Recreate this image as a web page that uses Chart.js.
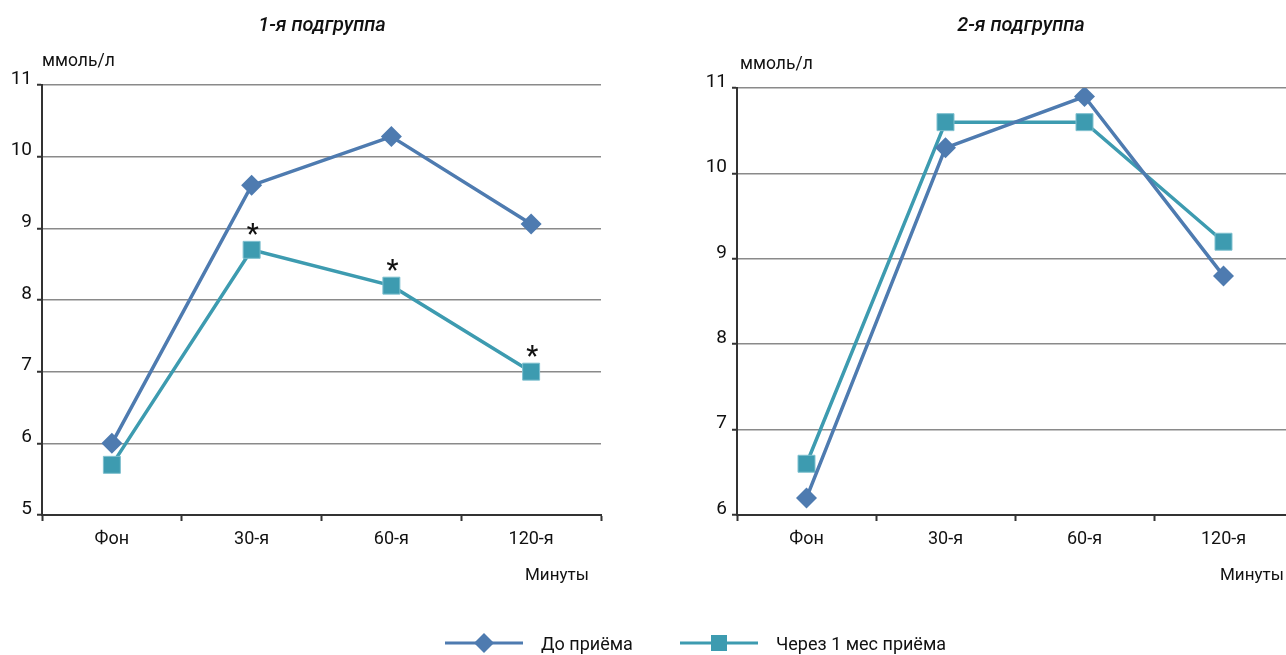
<!DOCTYPE html>
<html>
<head>
<meta charset="utf-8">
<script src="https://cdn.jsdelivr.net/npm/chart.js@4/dist/chart.umd.min.js"></script>
<style>
  html { overflow: hidden; }
  html, body { margin: 0; padding: 0; background: #fff; height: 655px;
    font-family: Roboto, "DejaVu Sans", sans-serif; color: #111; }
  body { width: 1400px; position: relative; overflow: hidden; }
  canvas { position: absolute; top: 0; max-width: none; }
  .txt { position: absolute; white-space: nowrap; line-height: 1; }
  .title { font-style: italic; font-size: 20px; font-weight: 500; transform: translateX(-50%); }
  .unit { font-size: 17.5px; }
  .axisname { font-size: 17px; }
  .legend { position: absolute; top: 631px; display: flex; align-items: center; font-size: 18px; }
  .legend svg { display: block; margin-right: 16px; }
</style>
</head>
<body>
<canvas id="g1" width="643" height="655" style="left:0; width:643px; height:655px"></canvas>
<canvas id="g2" width="650" height="655" style="left:643px; width:650px; height:655px"></canvas>

<div class="txt title" style="left:322px; top:14px">1-я подгруппа</div>
<div class="txt title" style="left:1021px; top:14px">2-я подгруппа</div>
<div class="txt unit" style="left:42px; top:52px">ммоль/л</div>
<div class="txt unit" style="left:740px; top:55px">ммоль/л</div>
<div class="txt axisname" style="left:525px; top:566px">Минуты</div>
<div class="txt axisname" style="left:1220px; top:566px">Минуты</div>

<div class="legend" style="left:445px">
  <svg width="80" height="24"><line x1="0" y1="12" x2="78" y2="12" stroke="#4e7bb0" stroke-width="3"/>
    <polygon points="39,2 49,12 39,22 29,12" fill="#4e7bb0"/></svg>
  <span>До приёма</span>
</div>
<div class="legend" style="left:680px">
  <svg width="80" height="24"><line x1="0" y1="12" x2="78" y2="12" stroke="#3d9bb0" stroke-width="3"/>
    <rect x="31" y="4" width="16" height="16" fill="#3d9bb0"/></svg>
  <span>Через 1 мес приёма</span>
</div>

<script>
// Measurement points (minutes after load)
const categories = ['Фон', '30-я', '60-я', '120-я'];

// Glucose, mmol/L — subgroup 1
const group1Before = [6.0, 9.6, 10.28, 9.06];
const group1After  = [5.7, 8.7, 8.2, 7.0];
const group1Stars  = [false, true, true, true];   // significant change vs. baseline

// Glucose, mmol/L — subgroup 2
const group2Before = [6.2, 10.3, 10.9, 8.8];
const group2After  = [6.6, 10.6, 10.6, 9.2];

// Y axis ranges
const group1Range = [5, 11];
const group2Range = [6, 11];

const BEFORE_COLOR = '#4e7bb0';
const AFTER_COLOR  = '#3d9bb0';
const FONT = 'Roboto, "DejaVu Sans", sans-serif';

// Draws an asterisk above flagged points of the second series
const starPlugin = {
  id: 'stars',
  afterDatasetsDraw(chart, args, opts) {
    if (!opts.marks) return;
    const meta = chart.getDatasetMeta(1);
    const ctx = chart.ctx;
    ctx.save();
    ctx.fillStyle = '#111';
    ctx.font = '500 27px ' + FONT;
    ctx.textAlign = 'center';
    ctx.textBaseline = 'alphabetic';
    meta.data.forEach((pt, i) => {
      if (opts.marks[i]) ctx.fillText('*', pt.x + 1, pt.y - 7);
    });
    ctx.restore();
  }
};

function build(id, before, after, range, padding, marks) {
  return new Chart(document.getElementById(id), {
    type: 'line',
    data: {
      labels: categories,
      datasets: [
        {
          label: 'До приёма',
          data: before,
          borderColor: BEFORE_COLOR,
          backgroundColor: BEFORE_COLOR,
          borderWidth: 3.5,
          pointStyle: 'rectRot',
          pointRadius: 10.5,
          pointBorderWidth: 0,
          tension: 0
        },
        {
          label: 'Через 1 мес приёма',
          data: after,
          borderColor: AFTER_COLOR,
          backgroundColor: AFTER_COLOR,
          borderWidth: 3.5,
          pointStyle: 'rect',
          pointRadius: 12,
          pointBorderColor: '#7fc0cf',
          pointBorderWidth: 1,
          tension: 0
        }
      ]
    },
    options: {
      responsive: false,
      animation: false,
      devicePixelRatio: 1,
      layout: { padding, autoPadding: false },
      plugins: {
        legend: { display: false },
        tooltip: { enabled: false },
        stars: { marks }
      },
      scales: {
        x: {
          offset: true,
          afterFit: s => { s.height = 40; },
          grid: { offset: true, drawOnChartArea: false, drawTicks: true, tickLength: 6,
                  tickColor: '#333', tickWidth: 2 },
          border: { color: '#333', width: 2 },
          ticks: { color: '#111', font: { family: FONT, size: 18 }, padding: 8, maxRotation: 0 }
        },
        y: {
          min: range[0],
          max: range[1],
          afterFit: s => { s.width = 42; },
          grid: { color: '#8a8a8a', lineWidth: 1.5, tickLength: 5, tickColor: '#333', tickWidth: 2 },
          border: { color: '#333', width: 2 },
          ticks: { stepSize: 1, color: '#111', font: { family: FONT, size: 19 }, padding: 5, labelOffset: -6 }
        }
      }
    },
    plugins: [starPlugin]
  });
}

build('g1', group1Before, group1After, group1Range, { left: 0, right: 42, top: 85, bottom: 100 }, group1Stars);
build('g2', group2Before, group2After, group2Range, { left: 52, right: 0, top: 88, bottom: 100 }, null);
</script>
</body>
</html>
